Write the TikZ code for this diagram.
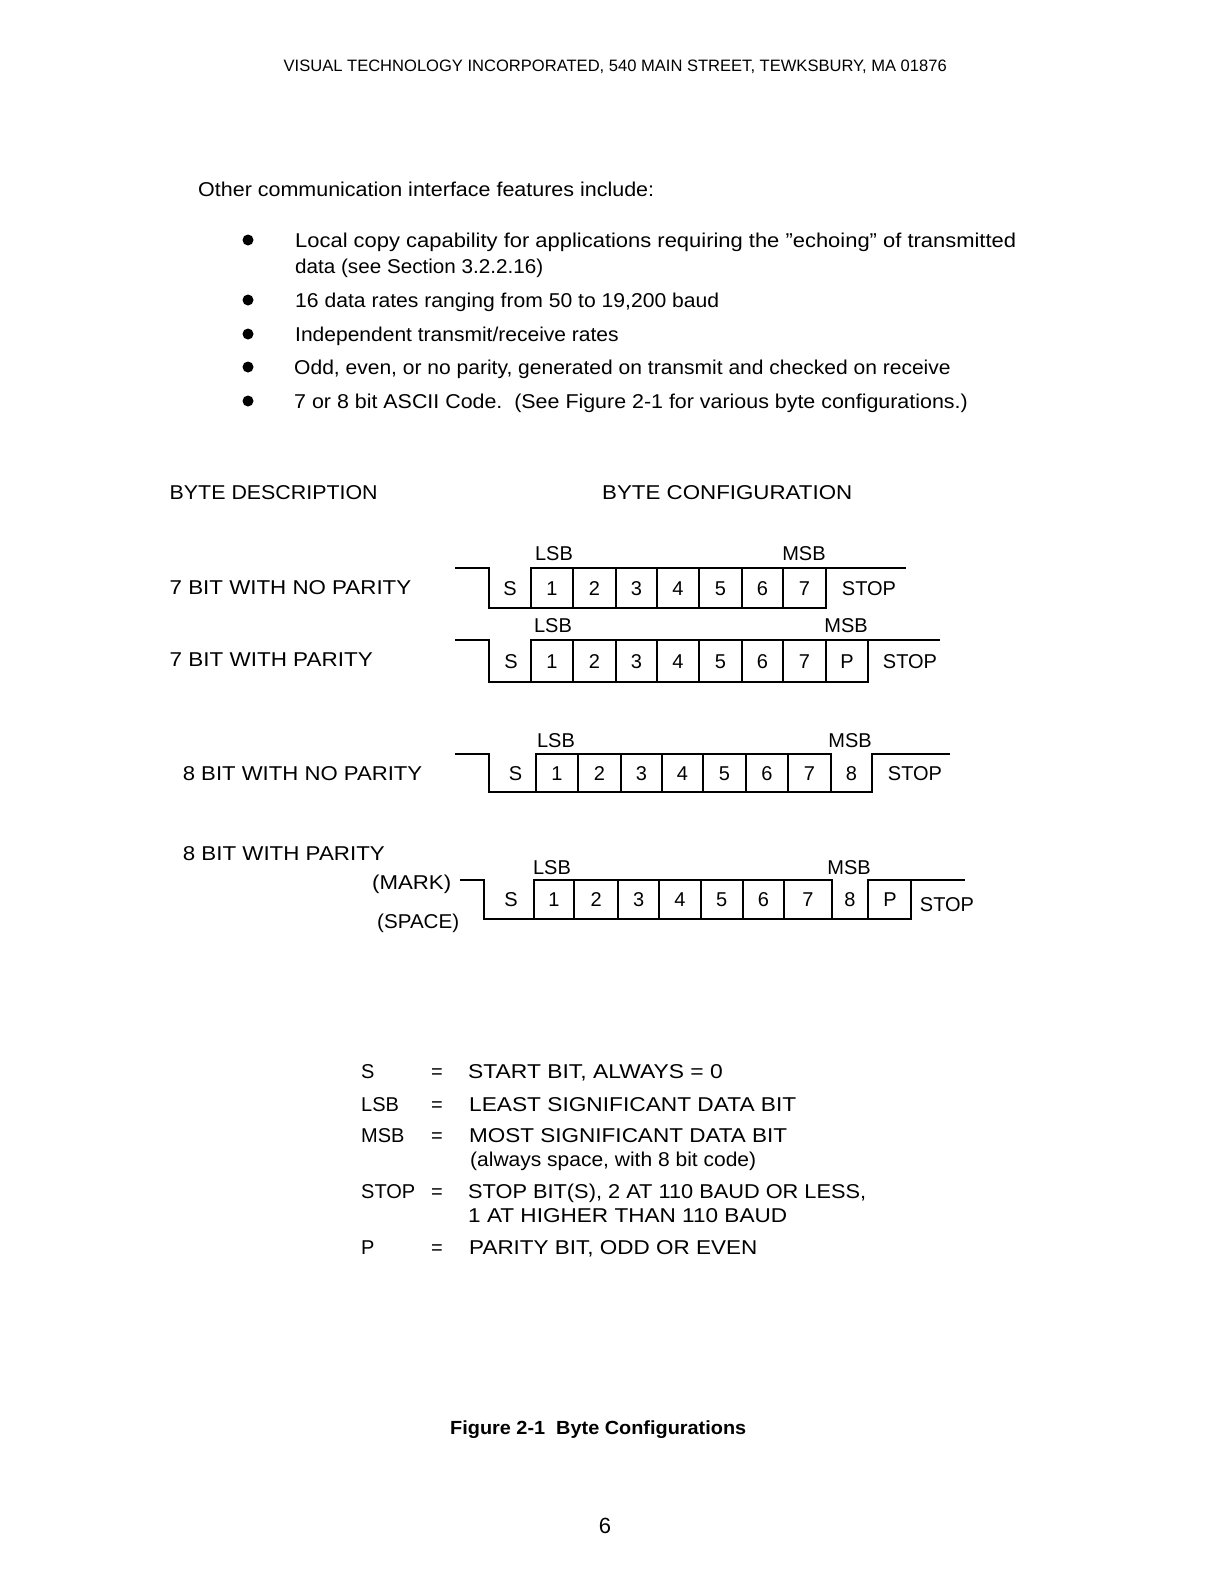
\documentclass[tikz,border=0pt]{standalone}
\usepackage{fontspec}
\setmainfont{Liberation Sans}
\usepackage{graphicx}
\newcommand{\fitw}[2]{\resizebox{#1pt}{\height}{#2}}
\begin{document}
\begin{tikzpicture}[x=1pt,y=-1pt,
  txt/.style={anchor=base west,inner sep=0pt,font=\fontsize{20}{24}\selectfont},
  hdr/.style={anchor=base west,inner sep=0pt,font=\fontsize{16.5}{19}\selectfont},
  figcap/.style={anchor=base west,inner sep=0pt,font=\fontsize{19}{23}\selectfont\bfseries},
  lbl/.style={anchor=base,inner sep=0pt,font=\fontsize{20}{24}\selectfont},
  wave/.style={line width=2pt,line join=miter},
  bul/.style={fill=black,circle,inner sep=0pt,minimum size=11pt}]
\useasboundingbox[fill=white] (0,0) rectangle (1224,1582);

% header
\node[hdr] (hdr) at (283.5,71) {\fitw{663}{VISUAL TECHNOLOGY INCORPORATED, 540 MAIN STREET, TEWKSBURY, MA 01876}};

% intro and bullets
\node[txt] (intro) at (198,196) {\fitw{456}{Other communication interface features include:}};
\node[bul] (b1) at (248,240) {};
\node[bul] (b2) at (248,300) {};
\node[bul] (b3) at (248,334) {};
\node[bul] (b4) at (248,367) {};
\node[bul] (b5) at (248,401) {};
\node[txt] (t1) at (295,247) {\fitw{721}{Local copy capability for applications requiring the ''echoing'' of transmitted}};
\node[txt] (t1b) at (295,273) {\fitw{248}{data (see Section 3.2.2.16)}};
\node[txt] (t2) at (295,307) {\fitw{424}{16 data rates ranging from 50 to 19,200 baud}};
\node[txt] (t3) at (295,341) {\fitw{323.5}{Independent transmit/receive rates}};
\node[txt] (t4) at (294,374) {\fitw{656.5}{Odd, even, or no parity, generated on transmit and checked on receive}};
\node[txt] (t5) at (294,408) {\fitw{673.6}{7 or 8 bit ASCII Code.\ \ (See Figure 2-1 for various byte configurations.)}};

% column heads
\node[txt] (desc) at (169.5,499) {\fitw{208}{BYTE DESCRIPTION}};
\node[txt] (conf) at (602,499) {\fitw{250}{BYTE CONFIGURATION}};

% row labels
\node[txt] (r1) at (169.5,594) {\fitw{241.5}{7 BIT WITH NO PARITY}};
\node[txt] (r2) at (169.5,666) {\fitw{203}{7 BIT WITH PARITY}};
\node[txt] (r3) at (182.6,780) {\fitw{239.4}{8 BIT WITH NO PARITY}};
\node[txt] (r4) at (182.6,860) {\fitw{202}{8 BIT WITH PARITY}};
\node[txt] (mark) at (372,889) {\fitw{79}{(MARK)}};
\node[txt] (space) at (377,928) {\fitw{82}{(SPACE)}};

% ---- waveform 1: 7 bit no parity
\draw[wave] (455,568) -- (489,568) -- (489,607.5) -- (826,607.5) -- (826,568) -- (906,568);
\draw[wave] (531,607.5) -- (531,568) -- (826,568);
\foreach \x in {573,616,657,699,742,783} \draw[wave] (\x,568) -- (\x,607.5);
\node[lbl] (w1s) at (510,595) {S};
\foreach \x/\t in {552/1,594.5/2,636.5/3,678/4,720.5/5,762.5/6,804.5/7} \node[lbl] (w1d\t) at (\x,595) {\t};
\node[lbl] (w1stop) at (869,595) {STOP};
\node[lbl] (w1lsb) at (554,560) {LSB};
\node[lbl] (w1msb) at (804,560) {MSB};

% ---- waveform 2: 7 bit with parity
\draw[wave] (455,640) -- (489,640) -- (489,681.5) -- (867.7,681.5) -- (867.7,640) -- (940,640);
\draw[wave] (531,681.5) -- (531,640) -- (867.7,640);
\foreach \x in {573,616,657,699,742,783,826} \draw[wave] (\x,640) -- (\x,681.5);
\node[lbl] (w2s) at (511,668) {S};
\foreach \x/\t in {552/1,594.5/2,636.5/3,678/4,720.5/5,762.5/6,804.5/7,847/P} \node[lbl] (w2d\t) at (\x,668) {\t};
\node[lbl] (w2stop) at (910,668) {STOP};
\node[lbl] (w2lsb) at (553,632) {LSB};
\node[lbl] (w2msb) at (846,632) {MSB};

% ---- waveform 3: 8 bit no parity
\draw[wave] (455,754) -- (489,754) -- (489,792) -- (871.7,792) -- (871.7,754) -- (950,754);
\draw[wave] (535.7,792) -- (535.7,754) -- (830.7,754) -- (830.7,792);
\foreach \x in {578,621,662,703,746,788} \draw[wave] (\x,754) -- (\x,792);
\node[lbl] (w3s) at (515.6,780) {S};
\foreach \x/\t in {557/1,599.5/2,641.5/3,682.5/4,724.5/5,767/6,809.5/7,851.5/8} \node[lbl] (w3d\t) at (\x,780) {\t};
\node[lbl] (w3stop) at (915,780) {STOP};
\node[lbl] (w3lsb) at (556,747) {LSB};
\node[lbl] (w3msb) at (850,747) {MSB};

% ---- waveform 4: 8 bit with parity
\draw[wave] (460,880) -- (484,880) -- (484,918.5) -- (911,918.5) -- (911,880);
\draw[wave] (534,918.5) -- (534,880) -- (831.7,880) -- (831.7,918.5);
\draw[wave] (868.3,918.5) -- (868.3,880) -- (965,880);
\foreach \x in {574.3,618.3,659,700.7,742.7,784.3} \draw[wave] (\x,880) -- (\x,918.5);
\node[lbl] (w4s) at (511,906.5) {S};
\foreach \x/\t in {554/1,596.3/2,638.6/3,680/4,721.7/5,763.5/6,808/7,850/8,890/P} \node[lbl] (w4d\t) at (\x,906.5) {\t};
\node[lbl] (w4stop) at (947,911) {STOP};
\node[lbl] (w4lsb) at (552,874) {LSB};
\node[lbl] (w4msb) at (849,874) {MSB};

% ---- legend
\node[txt] (ks) at (361,1078.6) {S};
\node[txt] (klsb) at (361,1111) {LSB};
\node[txt] (kmsb) at (361,1142) {MSB};
\node[txt] (kstop) at (361,1198) {STOP};
\node[txt] (kp) at (361,1254) {P};
\foreach \y/\n in {1078.6/1,1111/2,1142/3,1198/4,1254/5} \node[lbl] (eq\n) at (437,\y) {=};
\node[txt] (v1) at (468,1078.6) {\fitw{254.5}{START BIT, ALWAYS = 0}};
\node[txt] (v2) at (469,1111) {\fitw{327}{LEAST SIGNIFICANT DATA BIT}};
\node[txt] (v3) at (469,1142) {\fitw{318}{MOST SIGNIFICANT DATA BIT}};
\node[txt] (v3b) at (470,1166) {\fitw{286}{(always space, with 8 bit code)}};
\node[txt] (v4) at (468,1198) {\fitw{398}{STOP BIT(S), 2 AT 110 BAUD OR LESS,}};
\node[txt] (v4b) at (468,1222) {\fitw{319}{1 AT HIGHER THAN 110 BAUD}};
\node[txt] (v5) at (469,1254) {\fitw{288}{PARITY BIT, ODD OR EVEN}};

% caption and page number
\node[figcap] (caption) at (450,1434) {\fitw{296}{Figure 2-1\ \ Byte Configurations}};
\node[anchor=center,inner sep=0pt,font=\fontsize{22}{26}\selectfont] (page) at (605,1525.5) {6};
\end{tikzpicture}
\end{document}
